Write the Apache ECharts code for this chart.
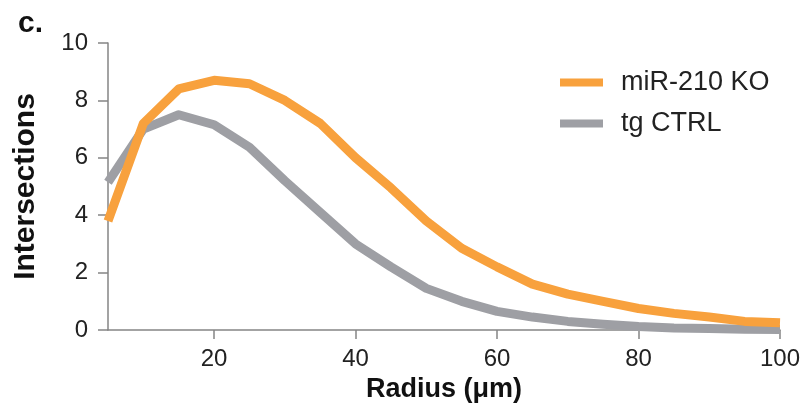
<!DOCTYPE html>
<html>
<head>
<meta charset="utf-8">
<script src="https://cdn.jsdelivr.net/npm/echarts@6/dist/echarts.min.js"></script>
<style>
  html, body { margin: 0; padding: 0; background: #fff; }
  #main { width: 807px; height: 410px; }
</style>
</head>
<body>
<div id="main"></div>
<script>
// 数据
var radius = [5, 10, 15, 20, 25, 30, 35, 40, 45, 50, 55, 60, 65, 70, 75, 80, 85, 90, 95, 100];
var koValues = [3.8, 7.2, 8.4, 8.7, 8.58, 8.0, 7.2, 6.0, 4.95, 3.8, 2.85, 2.2, 1.6, 1.25, 1.0, 0.75, 0.58, 0.45, 0.3, 0.25];
var ctrlValues = [5.15, 7.0, 7.5, 7.15, 6.37, 5.2, 4.1, 3.0, 2.2, 1.45, 1.0, 0.65, 0.45, 0.3, 0.2, 0.12, 0.07, 0.05, 0.03, 0.02];
var xTicks = [20, 40, 60, 80, 100];
var seriesNames = ['miR-210 KO', 'tg CTRL'];

function pairs(xs, ys) {
    var out = [];
    for (var i = 0; i < xs.length; i++) {
        out.push([xs[i], ys[i]]);
    }
    return out;
}

var sans = '"Liberation Sans", Arial, sans-serif';
var axisColor = '#858585';

var myChart = echarts.init(document.getElementById('main'), null, { renderer: 'canvas' });
var option = {
    backgroundColor: '#fff',
    animation: false,
    title: {
        text: 'c.',
        left: 13,
        top: 4,
        textStyle: { fontFamily: sans, fontWeight: 'bold', fontSize: 30, color: '#111' }
    },
    legend: {
        data: seriesNames,
        orient: 'vertical',
        left: 555,
        top: 64,
        itemWidth: 43,
        itemHeight: 8,
        itemGap: 14,
        icon: 'rect',
        textStyle: { fontFamily: sans, fontSize: 27, color: '#222', padding: [0, 0, 0, 13] }
    },
    grid: { left: 108, right: 27, top: 43, bottom: 80 },
    xAxis: {
        type: 'value',
        min: 5,
        max: 100,
        name: 'Radius (μm)',
        nameLocation: 'middle',
        nameGap: 37,
        nameTextStyle: { fontFamily: sans, fontWeight: 'bold', fontSize: 27, color: '#111' },
        axisLine: { onZero: false, lineStyle: { color: axisColor, width: 1.5 } },
        axisTick: { show: true, length: 9, customValues: xTicks, lineStyle: { color: axisColor, width: 1.5 } },
        axisLabel: { customValues: xTicks, margin: 17, fontFamily: sans, fontSize: 24, color: '#222' },
        splitLine: { show: false }
    },
    yAxis: {
        type: 'value',
        min: 0,
        max: 10,
        interval: 2,
        name: 'Intersections',
        nameLocation: 'middle',
        nameGap: 67,
        nameTextStyle: { fontFamily: sans, fontWeight: 'bold', fontSize: 30, color: '#111' },
        axisLine: { show: true, lineStyle: { color: axisColor, width: 1.5 } },
        axisTick: { show: true, length: 10, lineStyle: { color: axisColor, width: 1.5 } },
        axisLabel: { margin: 20, fontFamily: sans, fontSize: 24, color: '#222' },
        splitLine: { show: false }
    },
    series: [
        {
            name: seriesNames[0],
            type: 'line',
            data: pairs(radius, koValues),
            symbol: 'none',
            lineStyle: { color: '#F8A13D', width: 9, join: 'round' },
            itemStyle: { color: '#F8A13D' },
            z: 3
        },
        {
            name: seriesNames[1],
            type: 'line',
            data: pairs(radius, ctrlValues),
            symbol: 'none',
            lineStyle: { color: '#9E9FA4', width: 9, join: 'round' },
            itemStyle: { color: '#9E9FA4' },
            z: 2
        }
    ]
};
myChart.setOption(option);
</script>
</body>
</html>
